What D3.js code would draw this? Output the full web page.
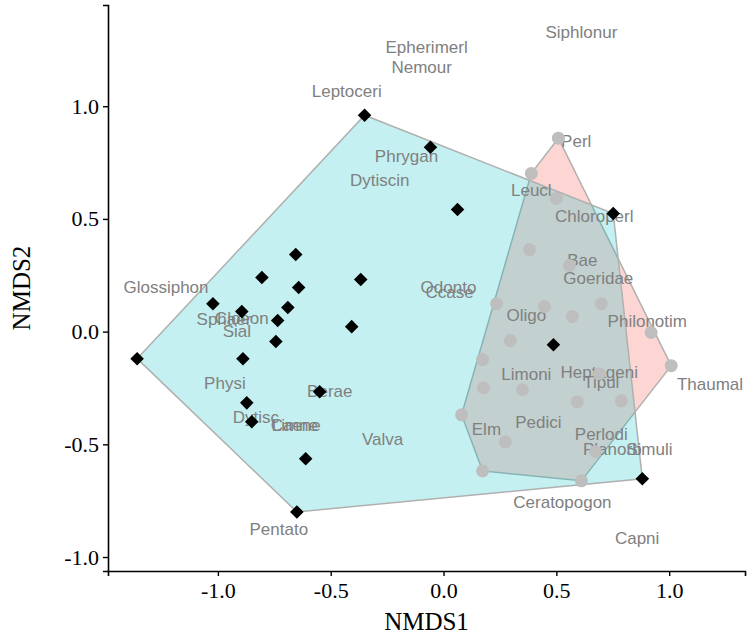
<!DOCTYPE html>
<html>
<head>
<meta charset="utf-8">
<script src="https://cdn.jsdelivr.net/npm/d3@7"></script>
<style>
  body { margin: 0; background: #fff; }
</style>
</head>
<body>
<div id="chart"></div>
<script>
// sites of group A (black diamonds, cyan hull)
var sitesA = [
  [-0.350, 0.960], [-0.058, 0.818], [0.062, 0.542], [-0.367, 0.231],
  [-0.407, 0.022], [0.752, 0.524], [0.487, -0.058], [0.881, -0.653],
  [-0.655, 0.342], [-0.805, 0.240], [-0.642, 0.196], [-1.022, 0.124],
  [-0.690, 0.107], [-0.894, 0.089], [-0.735, 0.049], [-0.743, -0.044],
  [-1.358, -0.120], [-0.889, -0.120], [-0.872, -0.316], [-0.850, -0.400],
  [-0.549, -0.267], [-0.611, -0.564], [-0.650, -0.800]
];

// sites of group B (grey circles, pink hull)
var sitesB = [
  [0.509, 0.858], [0.389, 0.702], [0.500, 0.591], [0.381, 0.364],
  [0.558, 0.293], [0.235, 0.124], [0.447, 0.111], [0.571, 0.067],
  [0.699, 0.124], [0.920, -0.004], [0.296, -0.040], [1.009, -0.151],
  [0.173, -0.124], [0.177, -0.249], [0.350, -0.258], [0.690, -0.187],
  [0.593, -0.311], [0.788, -0.307], [0.080, -0.369], [0.274, -0.489],
  [0.673, -0.533], [0.173, -0.618], [0.611, -0.662]
];

var species = ["Epherimerl", "Nemour", "Siphlonur", "Leptoceri", "Perl", "Phrygan",
  "Dytiscin", "Leucl", "Chloroperl", "Bae", "Goeridae", "Glossiphon", "Odonto",
  "Ccase", "Oligo", "Philonotim", "Sphaer", "Cloeon", "Sial", "Physi", "Berae",
  "Dytisc", "Caene", "Limne", "Valva", "Pentato", "Limoni", "Heptageni", "Tipul",
  "Thaumal", "Elm", "Pedici", "Perlodi", "Planorb", "Simuli", "Ceratopogon", "Capni"];
var speciesX = [-0.075, -0.097, 0.611, -0.429, 0.588, -0.164,
  -0.283, 0.389, 0.668, 0.615, 0.686, -1.230, 0.022,
  0.027, 0.367, 0.903, -0.973, -0.894, -0.916, -0.969, -0.504,
  -0.832, -0.655, -0.659, -0.270, -0.730, 0.367, 0.690, 0.699,
  1.181, 0.190, 0.420, 0.699, 0.748, 0.912, 0.527, 0.858];
var speciesY = [1.262, 1.173, 1.329, 1.067, 0.844, 0.778,
  0.671, 0.627, 0.511, 0.316, 0.236, 0.196, 0.196,
  0.173, 0.071, 0.044, 0.053, 0.058, 0.000, -0.231, -0.267,
  -0.382, -0.418, -0.418, -0.480, -0.880, -0.191, -0.182, -0.227,
  -0.236, -0.436, -0.404, -0.458, -0.524, -0.524, -0.756, -0.920];

var ticks = [-1.0, -0.5, 0.0, 0.5, 1.0];

var W = 747, H = 637;
var margin = {top: 5, right: 2, bottom: 66, left: 108},
    width = W - margin.left - margin.right,
    height = H - margin.top - margin.bottom;

var svg = d3.select("#chart")
  .append("svg")
  .attr("width", W)
  .attr("height", H)
  .append("g")
  .attr("transform", "translate(" + margin.left + "," + margin.top + ")");

var xScale = d3.scaleLinear()
  .domain([-1.487, 1.336])
  .range([0, width]);
var yScale = d3.scaleLinear()
  .domain([-1.062, 1.449])
  .range([height, 0]);

function px(d) { return [xScale(d[0]), yScale(d[1])]; }

// hulls: pink first, cyan on top
var hullB = d3.polygonHull(sitesB.map(px));
var hullA = d3.polygonHull(sitesA.map(px));

svg.append("path")
  .attr("d", "M" + hullB.join("L") + "Z")
  .attr("fill", "rgba(248,118,109,0.3)")
  .attr("stroke", "#b0b0b0")
  .attr("stroke-width", 1.5);

svg.append("path")
  .attr("d", "M" + hullA.join("L") + "Z")
  .attr("fill", "rgba(0,191,196,0.23)")
  .attr("stroke", "#b0b0b0")
  .attr("stroke-width", 1.5);

// species labels
svg.append("g")
  .selectAll("text")
  .data(species)
  .enter()
  .append("text")
    .attr("x", function (d, i) { return xScale(speciesX[i]); })
    .attr("y", function (d, i) { return yScale(speciesY[i]); })
    .attr("text-anchor", "middle")
    .attr("dominant-baseline", "central")
    .style("font-family", "'Liberation Sans', Arial, sans-serif")
    .style("font-size", "17px")
    .style("fill", "#808080")
    .text(function (d) { return d; });

// grey circles
svg.append("g")
  .selectAll("circle")
  .data(sitesB)
  .enter()
  .append("circle")
    .attr("cx", function (d) { return xScale(d[0]); })
    .attr("cy", function (d) { return yScale(d[1]); })
    .attr("r", 6.5)
    .style("fill", "#bebebe");

// black diamonds
var diamond = d3.symbol().type(d3.symbolSquare).size(92);
svg.append("g")
  .selectAll("path")
  .data(sitesA)
  .enter()
  .append("path")
    .attr("d", diamond)
    .attr("transform", function (d) {
      return "translate(" + xScale(d[0]) + "," + yScale(d[1]) + ") rotate(45)";
    })
    .style("fill", "#000");

// axes, ticks written with a plain hyphen like the reference
var fmt = function (d) { return d3.format(".1f")(d).replace("\u2212", "-"); };
var xAxis = svg.append("g")
  .attr("transform", "translate(0," + height + ")")
  .call(d3.axisBottom(xScale).tickValues(ticks).tickFormat(fmt).tickSizeOuter(0).tickSize(5).tickPadding(6));
var yAxis = svg.append("g")
  .call(d3.axisLeft(yScale).tickValues(ticks).tickFormat(fmt).tickSizeOuter(0).tickSize(5).tickPadding(4));

[xAxis, yAxis].forEach(function (a) {
  a.select(".domain").attr("stroke", "#000").attr("stroke-width", 1.6);
  a.selectAll(".tick line").attr("stroke", "#000").attr("stroke-width", 1.4);
  a.selectAll(".tick text")
    .style("font-family", "'Liberation Serif', 'Times New Roman', serif")
    .style("font-size", "22px")
    .style("fill", "#000");
});

svg.append("text")
  .attr("x", width / 2)
  .attr("y", height + 59)
  .attr("text-anchor", "middle")
  .style("font-family", "'Liberation Serif', 'Times New Roman', serif")
  .style("font-size", "25px")
  .text("NMDS1");

svg.append("text")
  .attr("transform", "translate(" + (-78) + "," + (height / 2) + ") rotate(-90)")
  .attr("text-anchor", "middle")
  .style("font-family", "'Liberation Serif', 'Times New Roman', serif")
  .style("font-size", "25px")
  .text("NMDS2");
</script>
</body>
</html>
